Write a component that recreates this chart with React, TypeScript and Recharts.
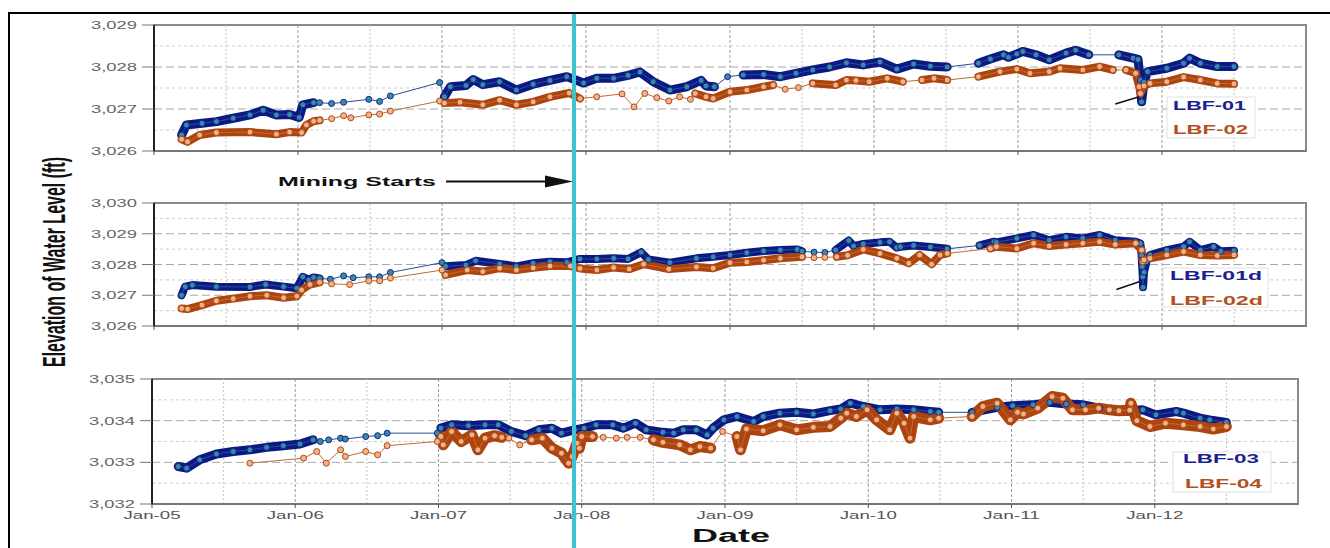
import React from 'react';
import { LineChart, Line, XAxis, YAxis, CartesianGrid, ReferenceLine, ReferenceArea } from 'recharts';

type Pt = [number, number];
type Run = [number, number];

// x = months since Jan-2005, y = water level elevation (ft)
const yearLabels = ['Jan-05', 'Jan-06', 'Jan-07', 'Jan-08', 'Jan-09', 'Jan-10', 'Jan-11', 'Jan-12'];
const miningStart = 35.0;

const lbf01: Pt[] = [
  [2.3, 3026.38], [2.7, 3026.62], [4.0, 3026.66], [5.2, 3026.70], [6.6, 3026.78], [8.0, 3026.86], [9.1, 3026.97],
  [10.2, 3026.86], [11.3, 3026.87], [12.1, 3026.8], [12.4, 3027.1], [13.3, 3027.15],
  [13.8, 3027.15], [14.8, 3027.13], [15.8, 3027.16], [17.9, 3027.23], [18.8, 3027.18], [19.7, 3027.31], [23.8, 3027.63],
  [24.2, 3027.29], [24.7, 3027.53], [26.0, 3027.56], [26.6, 3027.7], [27.4, 3027.58], [28.8, 3027.65], [30.2, 3027.45],
  [31.6, 3027.59], [33.0, 3027.68], [34.4, 3027.77], [35.8, 3027.62], [36.9, 3027.73], [38.3, 3027.73], [39.5, 3027.8],
  [40.5, 3027.88], [41.6, 3027.65], [43.0, 3027.45], [44.4, 3027.53], [45.6, 3027.68], [46.0, 3027.55], [46.7, 3027.53],
  [47.8, 3027.77],
  [49.1, 3027.81], [50.8, 3027.82], [52.2, 3027.77], [53.5, 3027.85], [54.9, 3027.93], [56.3, 3028.0], [57.7, 3028.1],
  [59.1, 3028.05], [60.5, 3028.12], [61.9, 3027.95], [63.3, 3028.07], [64.7, 3028.02], [66.1, 3028.0],
  [68.7, 3028.09], [69.7, 3028.19], [70.8, 3028.29], [71.2, 3028.23], [71.9, 3028.31], [72.4, 3028.37], [73.5, 3028.29],
  [74.6, 3028.17], [76.0, 3028.33], [76.8, 3028.4], [77.9, 3028.29],
  [80.4, 3028.29], [81.6, 3028.21], [82.0, 3028.18], [82.2, 3027.69], [82.3, 3027.17], [82.5, 3027.64], [82.8, 3027.89],
  [84.4, 3027.97], [85.8, 3028.09], [86.3, 3028.21], [87.2, 3028.09], [88.6, 3028.01], [90.0, 3028.01],
];
const lbf01Runs: Run[] = [[2.3, 13.3], [24.2, 46.7], [49.1, 66.1], [68.7, 77.9], [80.4, 90]];

const lbf02: Pt[] = [
  [2.3, 3026.28], [2.8, 3026.22], [3.8, 3026.38], [5.2, 3026.44], [8.0, 3026.45], [10.2, 3026.4], [11.3, 3026.45],
  [12.3, 3026.44], [12.7, 3026.62], [13.3, 3026.71], [13.8, 3026.73],
  [14.8, 3026.77], [15.8, 3026.84], [16.4, 3026.79], [17.9, 3026.86], [18.8, 3026.88], [19.7, 3026.95], [23.8, 3027.19],
  [24.2, 3027.14], [25.5, 3027.16], [27.4, 3027.1], [28.8, 3027.21], [30.2, 3027.1], [31.6, 3027.17], [33.0, 3027.29],
  [34.6, 3027.38], [35.5, 3027.25],
  [36.9, 3027.29], [39.0, 3027.36], [40.0, 3027.05], [40.9, 3027.37], [41.9, 3027.27], [42.9, 3027.19], [43.8, 3027.29],
  [44.7, 3027.23],
  [45.1, 3027.37], [46.0, 3027.29], [46.6, 3027.25], [48.0, 3027.41], [49.4, 3027.45], [50.8, 3027.53], [51.6, 3027.57],
  [52.6, 3027.47], [53.7, 3027.51],
  [54.9, 3027.61], [56.8, 3027.57], [57.7, 3027.69], [58.5, 3027.68], [59.6, 3027.65], [61.1, 3027.73], [62.4, 3027.65],
  [64.0, 3027.69], [65.0, 3027.73], [66.1, 3027.69],
  [68.7, 3027.77], [70.5, 3027.89], [71.9, 3027.95], [73.0, 3027.85], [74.6, 3027.89], [75.5, 3027.97], [77.4, 3027.93],
  [78.8, 3028.01], [79.9, 3027.93],
  [81.0, 3027.93], [81.8, 3027.85], [82.1, 3027.53], [82.2, 3027.37], [82.5, 3027.55], [83.0, 3027.61], [84.4, 3027.65],
  [85.8, 3027.76], [87.2, 3027.69], [88.6, 3027.61], [90.0, 3027.6],
];
const lbf02Runs: Run[] = [[2.3, 13.8], [24.2, 35.5], [45.1, 51.6], [54.9, 62.4], [64.0, 66.1], [68.7, 79.9], [81.0, 90]];

const lbf01d: Pt[] = [
  [2.3, 3027.0], [2.6, 3027.28], [3.2, 3027.33], [5.2, 3027.28], [8.0, 3027.27], [9.3, 3027.35], [10.8, 3027.28],
  [11.9, 3027.23], [12.4, 3027.6], [12.9, 3027.5], [13.3, 3027.58], [13.8, 3027.55],
  [14.7, 3027.52], [15.8, 3027.63], [16.6, 3027.57], [17.9, 3027.6], [18.8, 3027.6], [19.7, 3027.74], [24.0, 3028.06],
  [24.3, 3027.94], [26.0, 3027.98], [26.8, 3028.12], [28.8, 3028.02], [30.2, 3027.94], [31.6, 3028.04], [33.0, 3028.09],
  [34.4, 3028.07], [35.5, 3028.18], [36.9, 3028.18], [38.3, 3028.2], [39.5, 3028.18], [40.6, 3028.4], [41.2, 3028.16],
  [43.0, 3028.06], [45.2, 3028.2], [46.6, 3028.25], [48.0, 3028.31], [49.4, 3028.38], [50.8, 3028.44], [52.2, 3028.47],
  [53.6, 3028.49], [54.0, 3028.43],
  [55.0, 3028.4], [55.9, 3028.39],
  [56.8, 3028.47], [57.9, 3028.78], [58.3, 3028.6], [59.1, 3028.67], [60.5, 3028.72], [61.3, 3028.74], [61.9, 3028.55],
  [62.2, 3028.58], [63.3, 3028.62], [64.7, 3028.57], [66.1, 3028.51],
  [68.8, 3028.62], [70.0, 3028.74], [70.2, 3028.72], [71.9, 3028.85], [73.3, 3028.96], [74.6, 3028.79], [76.0, 3028.9],
  [77.4, 3028.85], [78.8, 3028.96], [80.1, 3028.79], [81.8, 3028.74], [82.2, 3028.68], [82.3, 3028.3], [82.35, 3027.93],
  [82.4, 3027.6], [82.42, 3027.26], [82.5, 3027.75], [82.7, 3028.09], [83.0, 3028.31], [84.4, 3028.47], [85.8, 3028.58],
  [86.3, 3028.74], [87.2, 3028.47], [88.3, 3028.58], [88.9, 3028.43], [90.0, 3028.45],
];
const lbf01dRuns: Run[] = [[2.3, 13.8], [24.3, 54.0], [56.8, 66.1], [68.8, 90]];

const lbf02d: Pt[] = [
  [2.3, 3026.57], [2.8, 3026.55], [4.0, 3026.68], [5.2, 3026.82], [6.6, 3026.89], [8.0, 3026.97], [9.4, 3027.0],
  [10.8, 3026.92], [11.9, 3026.97], [12.3, 3027.17], [13.0, 3027.35], [13.8, 3027.42],
  [14.8, 3027.37], [16.3, 3027.35], [17.9, 3027.47], [18.8, 3027.47], [19.7, 3027.56], [24.0, 3027.82],
  [24.3, 3027.66], [26.1, 3027.82], [27.4, 3027.77], [28.8, 3027.88], [30.2, 3027.82], [31.6, 3027.89], [33.0, 3027.95],
  [34.7, 3027.95], [35.5, 3027.87], [36.9, 3027.82], [38.3, 3027.9], [39.6, 3027.85], [40.8, 3028.01], [42.9, 3027.85],
  [45.2, 3027.92], [46.6, 3027.88], [48.0, 3028.06], [49.4, 3028.08], [50.8, 3028.14], [52.2, 3028.2], [54.0, 3028.25],
  [55.0, 3028.22], [55.9, 3028.23],
  [56.9, 3028.25], [57.8, 3028.3], [59.1, 3028.49], [60.5, 3028.36], [61.9, 3028.2], [62.9, 3028.04], [63.8, 3028.31],
  [64.8, 3028.01], [65.5, 3028.31], [66.1, 3028.36],
  [69.7, 3028.52], [70.2, 3028.58], [71.9, 3028.52], [73.3, 3028.69], [74.6, 3028.6], [76.0, 3028.65], [77.4, 3028.69],
  [78.8, 3028.74], [80.1, 3028.65], [81.8, 3028.69], [82.3, 3028.47], [82.4, 3028.09], [82.5, 3028.15], [83.0, 3028.2],
  [84.4, 3028.31], [85.8, 3028.42], [87.2, 3028.31], [88.6, 3028.29], [90.0, 3028.31],
];
const lbf02dRuns: Run[] = [[2.3, 13.8], [24.3, 54.0], [56.9, 66.1], [69.7, 90]];

const lbf03: Pt[] = [
  [2.2, 3032.9], [2.9, 3032.86], [4.0, 3033.06], [5.4, 3033.2], [6.8, 3033.26], [8.2, 3033.3], [9.6, 3033.36],
  [11.0, 3033.4], [12.4, 3033.44], [13.5, 3033.54],
  [14.1, 3033.5], [14.8, 3033.54], [15.8, 3033.58], [16.2, 3033.56], [17.9, 3033.62], [18.9, 3033.64], [19.7, 3033.7],
  [23.9, 3033.7],
  [24.2, 3033.82], [25.1, 3033.9], [26.5, 3033.88], [27.9, 3033.9], [29.0, 3033.9], [30.1, 3033.74], [31.3, 3033.64],
  [32.4, 3033.78], [33.5, 3033.82], [34.3, 3033.7], [35.4, 3033.78], [36.2, 3033.82], [37.2, 3033.9], [38.6, 3033.9],
  [39.5, 3033.82], [40.5, 3033.94], [41.4, 3033.78], [42.8, 3033.72], [43.7, 3033.7], [44.5, 3033.78], [45.6, 3033.78],
  [46.5, 3033.66], [47.0, 3033.82], [47.9, 3034.02], [49.0, 3034.1], [50.4, 3033.98], [51.2, 3034.1], [52.6, 3034.18],
  [54.0, 3034.2], [55.4, 3034.16], [56.8, 3034.24], [57.7, 3034.28], [58.5, 3034.42], [59.6, 3034.34], [61.0, 3034.26],
  [62.4, 3034.28], [63.8, 3034.26], [65.2, 3034.22], [65.9, 3034.2],
  [68.7, 3034.2], [70.8, 3034.32], [72.1, 3034.36], [73.8, 3034.38], [75.2, 3034.44], [76.6, 3034.4], [78.0, 3034.38],
  [79.4, 3034.3], [80.2, 3034.26],
  [81.9, 3034.24], [83.0, 3034.26], [84.1, 3034.14], [85.8, 3034.22], [86.4, 3034.18], [87.8, 3034.06], [88.6, 3034.02],
  [90.0, 3033.96],
];
const lbf03Runs: Run[] = [[2.2, 13.5], [24.2, 65.9], [68.7, 80.2], [81.9, 90]];

const lbf04: Pt[] = [
  [8.2, 3032.98], [12.7, 3033.1], [13.8, 3033.26], [14.6, 3032.98], [15.8, 3033.3], [16.2, 3033.14], [17.9, 3033.26],
  [18.9, 3033.18], [19.7, 3033.4], [23.9, 3033.5],
  [24.2, 3033.62], [24.4, 3033.42], [25.1, 3033.74], [25.9, 3033.5], [26.8, 3033.66], [27.3, 3033.3], [27.9, 3033.58],
  [28.7, 3033.64], [29.3, 3033.6],
  [29.9, 3033.58], [30.8, 3033.42],
  [31.8, 3033.54], [32.7, 3033.58], [33.5, 3033.34], [34.3, 3033.22], [34.9, 3032.98], [35.2, 3033.14], [35.6, 3033.46],
  [35.8, 3033.34], [36.0, 3033.62], [36.9, 3033.62],
  [37.8, 3033.6], [38.9, 3033.58], [39.8, 3033.6], [40.9, 3033.6],
  [42.0, 3033.54], [42.8, 3033.48], [44.2, 3033.42], [45.1, 3033.3], [45.9, 3033.38], [46.8, 3033.34],
  [47.8, 3033.74],
  [49.0, 3033.62], [49.3, 3033.3], [49.8, 3033.8], [51.2, 3033.76], [52.6, 3033.9], [54.0, 3033.78], [55.4, 3033.84],
  [56.8, 3033.86], [57.7, 3034.06], [58.2, 3034.18], [59.0, 3034.1], [59.9, 3034.26], [60.7, 3034.02], [61.8, 3033.78],
  [62.4, 3034.18], [63.0, 3033.94], [63.5, 3033.58], [63.8, 3034.1], [65.2, 3034.02], [65.9, 3034.06],
  [68.7, 3034.1], [69.6, 3034.34], [70.8, 3034.42], [71.9, 3034.02], [72.5, 3034.2], [73.0, 3034.16], [74.2, 3034.3],
  [75.4, 3034.58], [76.3, 3034.54], [77.1, 3034.26], [78.2, 3034.26], [79.3, 3034.3], [80.2, 3034.26], [81.0, 3034.24],
  [81.9, 3034.25], [82.0, 3034.42], [82.5, 3034.0], [83.6, 3033.86], [84.9, 3033.94], [86.4, 3033.9], [87.8, 3033.86],
  [88.9, 3033.8], [90.0, 3033.86],
];
const lbf04Runs: Run[] = [[24.2, 29.3], [31.8, 36.9], [42.0, 46.8], [49.0, 65.9], [68.7, 90]];

const W = 1330;
const FONT = '"Liberation Sans", Arial, sans-serif';

const BLUE = { band: '#0a1a82', line: '#2a4c9c', fill: '#3d87a8', edge: '#0e2b88', text: '#1b2290' };
const ORANGE = { band: '#ad440d', line: '#c26a35', fill: '#efb38e', edge: '#b14a14', text: '#b3511e' };

const yearTicks = yearLabels.map((_, i) => i * 12);
const halfYears = yearLabels.map((_, i) => i * 12 + 6);

function rows(pts: Pt[]) {
  return pts.map(([t, v]) => ({ t, v }));
}

// dense stretches: drawn as a thick band so the overlapping markers read as one mass
function bandRows(pts: Pt[], runs: Run[]) {
  const out: { t: number; v: number | null }[] = [];
  runs.forEach(([a, b]) => {
    pts.forEach(([t, v]) => {
      if (t >= a && t <= b) out.push({ t, v });
    });
    out.push({ t: b + 0.05, v: null });
  });
  return out;
}

const fmt = (v: number) => v.toLocaleString('en-US');

const YTick = (props: any) => {
  const { x, y, payload } = props;
  return (
    <text x={x} y={y} dy={4} textAnchor="end" fontSize={10.5} fill="#666" fontFamily={FONT}
      textLength={46} lengthAdjust="spacingAndGlyphs">
      {fmt(payload.value)}
    </text>
  );
};

const XTick = (props: any) => {
  const { x, y, payload } = props;
  return (
    <text x={x} y={y} dy={8} textAnchor="middle" fontSize={10.5} fill="#555" fontFamily={FONT}
      textLength={57} lengthAdjust="spacingAndGlyphs">
      {yearLabels[Math.round(payload.value / 12)]}
    </text>
  );
};

interface Series {
  name: string;
  data: Pt[];
  runs: Run[];
  c: typeof BLUE;
  band: number;
}

interface PanelDef {
  top: number;
  height: number;
  mt: number;
  xh: number;
  plotLeft: number;
  plotRight: number;
  yTicks: number[];
  showX: boolean;
  series: Series[];
  pointer?: { x1: number; y1: number; x2: number; y2: number };
}

const panels: PanelDef[] = [
  {
    top: 0, height: 170, mt: 25, xh: 19, plotLeft: 154, plotRight: 1306,
    yTicks: [3026, 3027, 3028, 3029], showX: false,
    series: [
      { name: 'LBF-01', data: lbf01, runs: lbf01Runs, c: BLUE, band: 9 },
      { name: 'LBF-02', data: lbf02, runs: lbf02Runs, c: ORANGE, band: 8 },
    ],
    pointer: { x1: 80.1, y1: 3027.12, x2: 82.1, y2: 3027.29 },
  },
  {
    top: 180, height: 165, mt: 23, xh: 19, plotLeft: 154, plotRight: 1306,
    yTicks: [3026, 3027, 3028, 3029, 3030], showX: false,
    series: [
      { name: 'LBF-01d', data: lbf01d, runs: lbf01dRuns, c: BLUE, band: 8 },
      { name: 'LBF-02d', data: lbf02d, runs: lbf02dRuns, c: ORANGE, band: 8 },
    ],
    pointer: { x1: 80.2, y1: 3027.19, x2: 82.1, y2: 3027.44 },
  },
  {
    top: 356, height: 178, mt: 23, xh: 30, plotLeft: 152, plotRight: 1298,
    yTicks: [3032, 3033, 3034, 3035], showX: true,
    series: [
      { name: 'LBF-03', data: lbf03, runs: lbf03Runs, c: BLUE, band: 9 },
      { name: 'LBF-04', data: lbf04, runs: lbf04Runs, c: ORANGE, band: 11 },
    ],
  },
];

const Panel: React.FC<{ p: PanelDef }> = ({ p }) => {
  const yMin = p.yTicks[0];
  const yMax = p.yTicks[p.yTicks.length - 1];
  const halves = p.yTicks.slice(0, -1).map((v) => v + 0.5);
  return (
    <div style={{ position: 'absolute', left: 0, top: p.top }}>
      <LineChart width={W} height={p.height} margin={{ top: p.mt, right: W - p.plotRight, left: 0, bottom: 0 }}>
        <CartesianGrid horizontal={false} stroke="#9a9a9a" strokeDasharray="3 2" />
        <CartesianGrid vertical={false} stroke="#a9a9a9" strokeDasharray="8 4" />
        {halfYears.map((x) => (
          <ReferenceLine key={'vx' + x} x={x} stroke="#c2c2c2" strokeDasharray="2 2" />
        ))}
        {halves.map((y) => (
          <ReferenceLine key={'hy' + y} y={y} stroke="#cdcdcd" strokeDasharray="3 3" />
        ))}
        <ReferenceArea x1={0} x2={96} y1={yMin} y2={yMax} fill="none" stroke="#8a8a8a" strokeWidth={2} />
        <XAxis
          type="number" dataKey="t" domain={[0, 96]} ticks={yearTicks} interval={0} allowDataOverflow
          height={p.xh} axisLine={{ stroke: '#777', strokeWidth: 2 }} tickLine={{ stroke: '#555' }}
          tickSize={4} tickMargin={3}
          tick={p.showX ? (props: any) => <XTick {...props} /> : () => <g />}
        />
        <YAxis
          type="number" domain={[yMin, yMax]} ticks={p.yTicks} interval={0} allowDataOverflow
          width={p.plotLeft} axisLine={{ stroke: '#222', strokeWidth: 2 }} tickLine={{ stroke: '#777' }}
          tickSize={12} tickMargin={5} tick={(props: any) => <YTick {...props} />}
        />
        {p.series.map((s) => [
          <Line
            key={s.name + '-band'} data={bandRows(s.data, s.runs)} dataKey="v" type="linear"
            stroke={s.c.band} strokeWidth={s.band} strokeLinecap="round" strokeLinejoin="round"
            dot={false} activeDot={false} connectNulls={false} isAnimationActive={false}
          />,
          <Line
            key={s.name} name={s.name} data={rows(s.data)} dataKey="v" type="linear"
            stroke={s.c.line} strokeWidth={1}
            dot={{ r: 3, fill: s.c.fill, stroke: s.c.edge, strokeWidth: 1 }}
            activeDot={false} isAnimationActive={false}
          />,
        ])}
        {p.pointer && (
          <ReferenceLine
            segment={[{ x: p.pointer.x1, y: p.pointer.y1 }, { x: p.pointer.x2, y: p.pointer.y2 }]}
            stroke="#111" strokeWidth={1.6}
          />
        )}
      </LineChart>
    </div>
  );
};

const legends = [
  { box: [1167, 97, 88, 41], items: [['LBF-01', 1173, 110, 73], ['LBF-02', 1173, 134, 75]] },
  { box: [1163, 268, 105, 39], items: [['LBF-01d', 1170, 280, 92], ['LBF-02d', 1170, 305, 93]] },
  { box: [1173, 452, 98, 40], items: [['LBF-03', 1183, 463, 76], ['LBF-04', 1185, 488, 77]] },
];

export default function App() {
  const p1 = panels[0];
  const mx = p1.plotLeft + (miningStart / 96) * (p1.plotRight - p1.plotLeft);
  return (
    <div style={{ position: 'relative', width: W, height: 548, overflow: 'hidden', background: '#fff', fontFamily: FONT }}>
      <style>{'body{margin:0;overflow:hidden}'}</style>
      <div style={{ position: 'absolute', left: 8, top: 12, width: 1400, height: 700, border: '2px solid #000' }} />
      {panels.map((p, i) => (
        <Panel key={i} p={p} />
      ))}
      <svg width={W} height={548} style={{ position: 'absolute', left: 0, top: 0, pointerEvents: 'none' }}>
        <line x1={mx} x2={mx} y1={14} y2={548} stroke="#3ec3d3" strokeWidth={4} />
        <text x={278} y={186} fontSize={13.5} fontWeight="bold" fill="#111" textLength={158} lengthAdjust="spacingAndGlyphs">
          Mining Starts
        </text>
        <line x1={446} x2={550} y1={181.5} y2={181.5} stroke="#111" strokeWidth={2} />
        <polygon points={`${mx - 1},181.5 ${mx - 29},175.5 ${mx - 29},187.5`} fill="#111" />
        <text
          transform="translate(65,262) scale(1.6,1) rotate(-90)" textAnchor="middle" fontSize={19.5}
          fontWeight="bold" fill="#111" textLength={210} lengthAdjust="spacingAndGlyphs"
        >
          Elevation of Water Level (ft)
        </text>
        <text x={731} y={542} textAnchor="middle" fontSize={17.5} fontWeight="bold" fill="#111"
          textLength={78} lengthAdjust="spacingAndGlyphs">
          Date
        </text>
        {legends.map((lg, i) => (
          <g key={i}>
            <rect x={lg.box[0]} y={lg.box[1]} width={lg.box[2]} height={lg.box[3]} fill="#fff" stroke="#e2e2e2" />
            {lg.items.map(([label, x, y, len], j) => (
              <text key={j} x={x as number} y={y as number} fontSize={12} fontWeight="bold"
                fill={j === 0 ? BLUE.text : ORANGE.text} textLength={len as number} lengthAdjust="spacingAndGlyphs">
                {label}
              </text>
            ))}
          </g>
        ))}
      </svg>
    </div>
  );
}
